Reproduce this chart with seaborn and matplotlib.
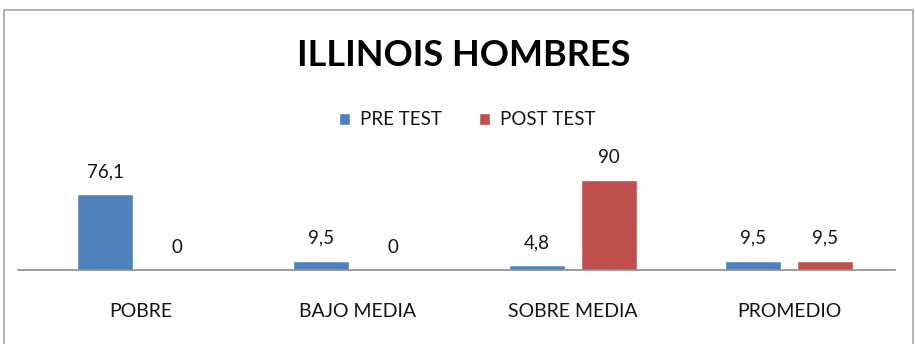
import matplotlib
matplotlib.use("Agg")
import matplotlib.pyplot as plt
import seaborn as sns
import pandas as pd
from matplotlib.patches import Rectangle

categories = ["POBRE", "BAJO MEDIA", "SOBRE MEDIA", "PROMEDIO"]
pre_test = [76.1, 9.5, 4.8, 9.5]
post_test = [0, 0, 90, 9.5]
series_names = ["PRE TEST", "POST TEST"]
title = "ILLINOIS HOMBRES"

df = pd.DataFrame({
    "cat": categories * 2,
    "serie": [series_names[0]] * 4 + [series_names[1]] * 4,
    "val": pre_test + post_test,
})

sns.set_theme(style="white")
FONT = ["Lato", "DejaVu Sans"]
plt.rcParams["font.family"] = FONT

fig = plt.figure(figsize=(9.15, 3.44), dpi=100)
W, H = 915, 344
ax = fig.add_axes([18 / W, (H - 270) / H, (895 - 18) / W, 100 / H])

sns.barplot(data=df, x="cat", y="val", hue="serie", hue_order=series_names,
            palette=["#4F81BD", "#C0504D"], width=0.667, gap=0.23,
            ax=ax, legend=True, saturation=1)

ax.set_xlim(-0.57, 3.49)
ax.set_ylim(0, 100)
ax.set_xlabel("")
ax.set_ylabel("")
ax.set_yticks([])
for s in ["top", "right", "left"]:
    ax.spines[s].set_visible(False)
ax.spines["bottom"].set_color("#8c8c8c")
ax.spines["bottom"].set_linewidth(1.2)
ax.tick_params(axis="x", length=0, pad=24, labelsize=14, labelcolor="#141414")

def fmt(v):
    s = f"{v:g}"
    return s.replace(".", ",")

for cont in ax.containers:
    ax.bar_label(cont, labels=[fmt(b.get_height()) for b in cont],
                 padding=10, fontsize=13.5, color="#141414")

leg = ax.legend(loc="center", bbox_to_anchor=(467 / W, 1 - 120 / H),
                bbox_transform=fig.transFigure, ncol=2, frameon=False,
                fontsize=13.5, handlelength=0.6, handleheight=0.6,
                columnspacing=2.0, handletextpad=0.5)
for t in leg.get_texts():
    t.set_color("#141414")

fig.text(464 / W, 1 - 55 / H, title, ha="center", va="center",
         fontsize=26, fontweight="bold", color="black")

fig.patches.append(Rectangle((4 / W, -0.1), (909) / W, 1.1 - 10 / H,
                             transform=fig.transFigure, fill=False,
                             edgecolor="#a6a6a6", linewidth=1.2))

fig.savefig("out.png", dpi=100, facecolor="white")
